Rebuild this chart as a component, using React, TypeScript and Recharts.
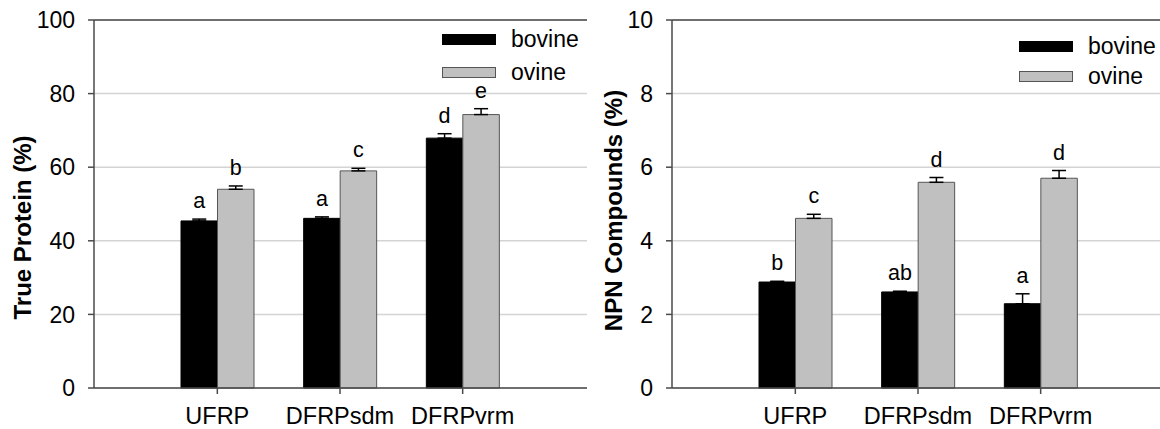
import React from 'react';
import {
  BarChart,
  Bar,
  XAxis,
  YAxis,
  CartesianGrid,
  ErrorBar,
  LabelList,
  ReferenceLine,
} from 'recharts';

const CATEGORIES = ['UFRP', 'DFRPsdm', 'DFRPvrm'];
const SERIES = ['bovine', 'ovine'];

// True protein (%)
const PROTEIN_BOVINE = [45.4, 46.1, 67.9];
const PROTEIN_BOVINE_ERR = [0.5, 0.4, 1.2];
const PROTEIN_OVINE = [54.0, 59.0, 74.3];
const PROTEIN_OVINE_ERR = [0.9, 0.7, 1.6];
const PROTEIN_BOVINE_LETTERS = ['a', 'a', 'd'];
const PROTEIN_OVINE_LETTERS = ['b', 'c', 'e'];
const PROTEIN_TICKS = [0, 20, 40, 60, 80, 100];

// NPN compounds (%)
const NPN_BOVINE = [2.88, 2.61, 2.29];
const NPN_BOVINE_ERR = [0.02, 0.02, 0.27];
const NPN_OVINE = [4.61, 5.59, 5.7];
const NPN_OVINE_ERR = [0.11, 0.13, 0.21];
const NPN_BOVINE_LETTERS = ['b', 'ab', 'a'];
const NPN_OVINE_LETTERS = ['c', 'd', 'd'];
const NPN_TICKS = [0, 2, 4, 6, 8, 10];

const FONT = 'Arial, "Liberation Sans", sans-serif';
const AXIS = '#4a4a4a';
const OVINE_FILL = '#c0c0c0';
const OVINE_STROKE = '#555';

function buildRows(b: number[], be: number[], o: number[], oe: number[], bl: string[], ol: string[]) {
  return CATEGORIES.map((name, i) => ({
    name,
    bovine: b[i],
    bovineErr: [0, be[i]],
    bovineLetter: bl[i],
    ovine: o[i],
    ovineErr: [0, oe[i]],
    ovineLetter: ol[i],
  }));
}

// letter sits above the error bar cap
const letterContent = (values: number[], errs: number[]) => (props: any) => {
  const { x, y, width, height, value, index } = props;
  const perUnit = height / values[index];
  const top = y - errs[index] * perUnit;
  return (
    <text x={x + width / 2} y={top - 11} textAnchor="middle" fontSize={21.5} fontFamily={FONT} fill="#000">
      {value}
    </text>
  );
};

function LegendBox({ left, top, rowH }: { left: number; top: number; rowH: number }) {
  return (
    <div style={{ position: 'absolute', left, top, fontFamily: FONT, fontSize: 23, lineHeight: 1 }}>
      {SERIES.map((s) => (
        <div key={s} style={{ display: 'flex', alignItems: 'center', height: rowH }}>
          <div
            style={{
              width: 54,
              height: 11,
              boxSizing: 'border-box',
              background: s === 'bovine' ? '#000' : OVINE_FILL,
              border: s === 'bovine' ? 'none' : `1px solid ${OVINE_STROKE}`,
              marginRight: 15,
            }}
          />
          <span style={{ color: '#000' }}>{s}</span>
        </div>
      ))}
    </div>
  );
}

function Panel(props: any) {
  const {
    left, width, yWidth, marginRight, title, titleX, titleY, max, ticks, rows,
    bovine, bovineErr, ovine, ovineErr, legendLeft, legendTop, legendRow,
  } = props;
  return (
    <div style={{ position: 'absolute', left, top: 0, width, height: 429 }}>
      <BarChart
        width={width}
        height={429}
        data={rows}
        margin={{ top: 20, right: marginRight, bottom: 0, left: 0 }}
        barGap={0}
        barSize={36.5}
      >
        <CartesianGrid vertical={false} stroke="#d4d4d4" strokeWidth={1.5} />
        <XAxis
          dataKey="name"
          height={41}
          padding={{ left: 62, right: 63 }}
          axisLine={{ stroke: AXIS, strokeWidth: 1.5 }}
          tickLine={{ stroke: AXIS, strokeWidth: 1.5 }}
          tickSize={6}
          tickMargin={13.5}
          tick={{ fontSize: 23.5, fontFamily: FONT, fill: '#000' }}
          interval={0}
        />
        <YAxis
          width={yWidth}
          domain={[0, max]}
          ticks={ticks}
          interval={0}
          axisLine={{ stroke: AXIS, strokeWidth: 1.5 }}
          tickLine={{ stroke: AXIS, strokeWidth: 1.5 }}
          tickSize={6}
          tickMargin={13}
          tick={{ fontSize: 23, fontFamily: FONT, fill: '#000' }}
          label={{
            content: (lp: any) => {
              const vb = lp.viewBox;
              const cx = vb.x + titleX;
              const cy = titleY;
              return (
                <text
                  x={cx}
                  y={cy}
                  transform={`rotate(-90 ${cx} ${cy})`}
                  textAnchor="middle"
                  dominantBaseline="central"
                  fontSize={24}
                  fontWeight="bold"
                  fontFamily={FONT}
                  fill="#000"
                >
                  {title}
                </text>
              );
            },
          }}
        />
        <YAxis
          yAxisId="frame"
          orientation="right"
          width={0}
          domain={[0, max]}
          tick={false}
          tickLine={false}
          axisLine={{ stroke: AXIS, strokeWidth: 1.5 }}
        />
        <ReferenceLine y={max} stroke={AXIS} strokeWidth={1.5} />
        <Bar dataKey="bovine" name="bovine" fill="#000" stroke="#000" strokeWidth={1} isAnimationActive={false}>
          <ErrorBar dataKey="bovineErr" direction="y" width={7} stroke="#000" strokeWidth={1.5} />
          <LabelList dataKey="bovineLetter" content={letterContent(bovine, bovineErr)} />
        </Bar>
        <Bar dataKey="ovine" name="ovine" fill={OVINE_FILL} stroke={OVINE_STROKE} strokeWidth={1} isAnimationActive={false}>
          <ErrorBar dataKey="ovineErr" direction="y" width={7} stroke="#000" strokeWidth={1.5} />
          <LabelList dataKey="ovineLetter" content={letterContent(ovine, ovineErr)} />
        </Bar>
      </BarChart>
      <LegendBox left={legendLeft} top={legendTop} rowH={legendRow} />
    </div>
  );
}

export default function App() {
  const proteinRows = buildRows(PROTEIN_BOVINE, PROTEIN_BOVINE_ERR, PROTEIN_OVINE, PROTEIN_OVINE_ERR, PROTEIN_BOVINE_LETTERS, PROTEIN_OVINE_LETTERS);
  const npnRows = buildRows(NPN_BOVINE, NPN_BOVINE_ERR, NPN_OVINE, NPN_OVINE_ERR, NPN_BOVINE_LETTERS, NPN_OVINE_LETTERS);
  return (
    <div style={{ position: 'absolute', left: 0, top: 0, width: 1160, height: 429, overflow: 'hidden', background: '#fff' }}>
      <Panel
        left={0}
        width={600}
        yWidth={94}
        marginRight={13}
        title="True Protein (%)"
        titleX={22.5}
        titleY={227.5}
        max={100}
        ticks={PROTEIN_TICKS}
        rows={proteinRows}
        bovine={PROTEIN_BOVINE}
        bovineErr={PROTEIN_BOVINE_ERR}
        ovine={PROTEIN_OVINE}
        ovineErr={PROTEIN_OVINE_ERR}
        legendLeft={442}
        legendTop={23}
        legendRow={33}
      />
      <Panel
        left={600}
        width={580}
        yWidth={72}
        marginRight={15}
        title="NPN Compounds (%)"
        titleX={13}
        titleY={210.5}
        max={10}
        ticks={NPN_TICKS}
        rows={npnRows}
        bovine={NPN_BOVINE}
        bovineErr={NPN_BOVINE_ERR}
        ovine={NPN_OVINE}
        ovineErr={NPN_OVINE_ERR}
        legendLeft={419}
        legendTop={31}
        legendRow={30}
      />
    </div>
  );
}
